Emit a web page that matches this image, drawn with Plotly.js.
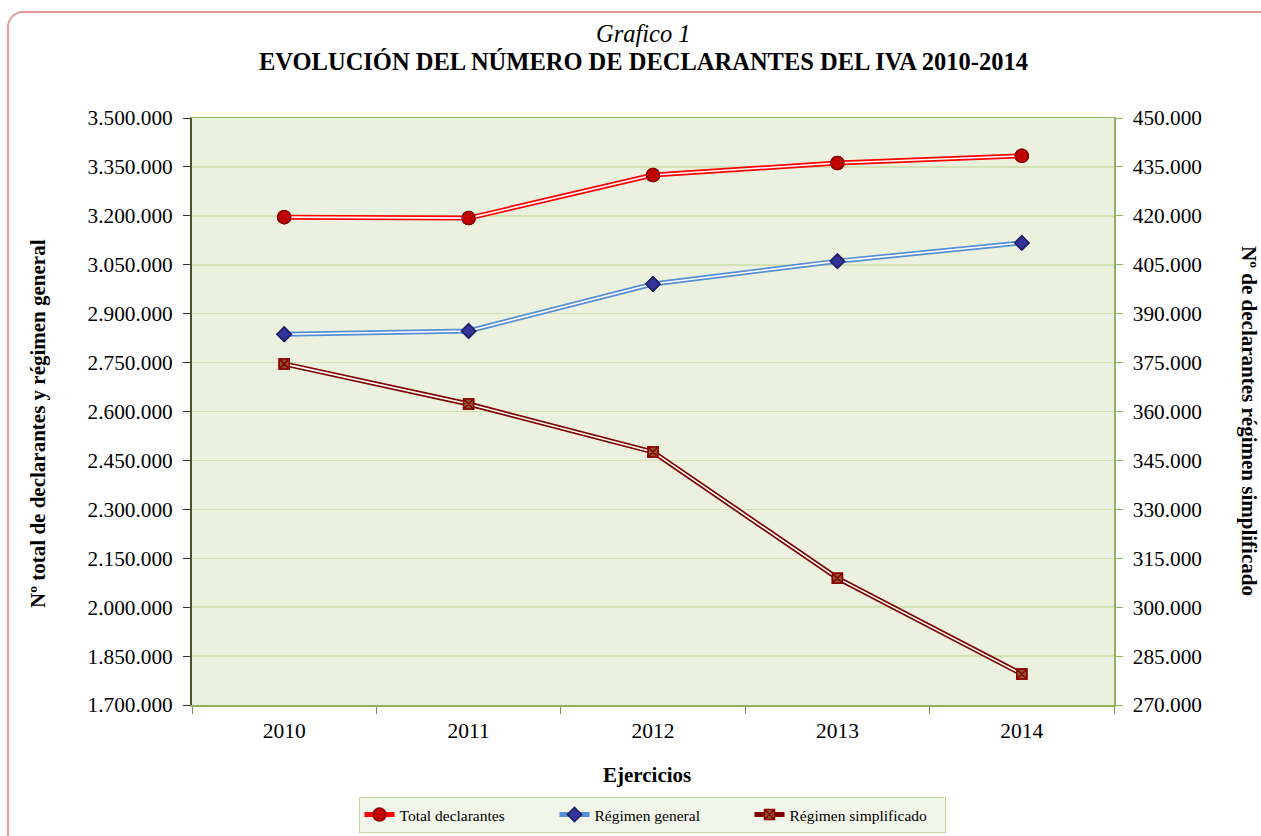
<!DOCTYPE html>
<html>
<head>
<meta charset="utf-8">
<script src="https://cdn.plot.ly/plotly-3.0.1.min.js"></script>
<style>
  html, body { margin:0; padding:0; background:#ffffff; overflow:hidden; }
  #frame { position:absolute; left:7px; top:11px; width:1275px; height:850px;
           border:2px solid #E29A9A; border-radius:16px; box-sizing:border-box; }
  #chart { position:absolute; left:0; top:0; width:1261px; height:836px; }
</style>
</head>
<body>
<div id="frame"></div>
<div id="chart"></div>
<script>
// ---- data ----
const years = ['2010', '2011', '2012', '2013', '2014'];
const totalDeclarantes = [3196000, 3193000, 3325000, 3362000, 3384000];
const regimenGeneral = [2837000, 2847000, 2991000, 3061000, 3117000];
const regimenSimplificado = [374600, 362300, 347600, 308900, 279500];

const FONT = 'Liberation Serif, Times New Roman, serif';

function doubleLine(y, color, name, symbol, mColor, mLine, mSize, axis) {
  return [
    { x: years, y: y, yaxis: axis, name: name, type: 'scatter', mode: 'lines+markers',
      line: { color: color, width: 5 },
      marker: { symbol: symbol, color: mColor, size: mSize, line: { color: mLine, width: 1.5 } },
      hoverinfo: 'skip' },
    { x: years, y: y, yaxis: axis, type: 'scatter', mode: 'lines', showlegend: false,
      line: { color: '#ffffff', width: 1.6 }, hoverinfo: 'skip' },
    { x: years, y: y, yaxis: axis, type: 'scatter', mode: 'markers', showlegend: false,
      marker: { symbol: symbol, color: mColor, size: mSize, line: { color: mLine, width: 1.5 } } }
  ];
}

const traces = [].concat(
  doubleLine(totalDeclarantes, '#FF0000', 'Total declarantes', 'circle', '#C00000', '#8B0000', 13, 'y'),
  doubleLine(regimenGeneral, '#558ED5', 'Régimen general', 'diamond', '#333399', '#1F1F66', 11, 'y'),
  doubleLine(regimenSimplificado, '#7F0000', 'Régimen simplificado', 'square-x', '#8B5A2B', '#8B0000', 10, 'y2')
);

const PW = 922, PH = 587, L = 192, T = 118;
function px(x) { return (x - L) / PW; }
function py(y) { return (T + PH - y) / PH; }

const layout = {
  width: 1261, height: 836,
  margin: { l: 192, r: 147, t: 118, b: 131, pad: 0, autoexpand: false },
  paper_bgcolor: 'rgba(0,0,0,0)',
  plot_bgcolor: '#EBF1DE',
  separators: ',.',
  font: { family: FONT, size: 21, color: '#000000' },
  showlegend: true,
  legend: {
    orientation: 'h', xref: 'container', x: 652 / 1261, xanchor: 'center',
    yref: 'container', y: 1 - 797 / 836, yanchor: 'top',
    bgcolor: '#F2F5EA', bordercolor: '#C3D69B', borderwidth: 1,
    font: { family: FONT, size: 15.5, color: '#000' }, itemwidth: 30, traceorder: 'normal',
    entrywidth: 150, entrywidthmode: 'pixels'
  },
  xaxis: {
    type: 'category', categoryorder: 'array', categoryarray: years,
    range: [-0.5, 4.5], tickson: 'boundaries', ticks: 'outside', ticklen: 7,
    tickcolor: '#77933C', showline: true, linecolor: '#8EB35A', linewidth: 1.5, mirror: true,
    showgrid: false, zeroline: false, tickfont: { family: FONT, size: 21.5 }, ticklabelstandoff: 6,
    fixedrange: true
  },
  yaxis: {
    range: [1700000, 3500000], dtick: 150000, tick0: 1700000, tickformat: ',d',
    ticks: 'outside', ticklen: 7, tickcolor: '#333333', showline: true, linecolor: '#4B5330', linewidth: 2,
    showgrid: true, gridcolor: '#D3E1B5', gridwidth: 1.5, zeroline: false,
    tickfont: { family: FONT, size: 21.3 }, ticklabelstandoff: 6, fixedrange: true
  },
  yaxis2: {
    overlaying: 'y', side: 'right', range: [270000, 450000], dtick: 15000, tick0: 270000, tickformat: ',d',
    ticks: 'outside', ticklen: 7, tickcolor: '#8EB35A', showline: true, linecolor: '#8EB35A', linewidth: 1.5,
    showgrid: false, zeroline: false, tickfont: { family: FONT, size: 21.3 }, ticklabelstandoff: 6, fixedrange: true
  },
  annotations: [
    { text: '<i>Grafico 1</i>', xref: 'paper', yref: 'paper', x: px(643), y: py(33),
      xanchor: 'center', yanchor: 'middle', showarrow: false, font: { family: FONT, size: 24.5 } },
    { text: '<b>EVOLUCIÓN DEL NÚMERO DE DECLARANTES DEL IVA 2010-2014</b>', xref: 'paper', yref: 'paper',
      x: px(643), y: py(62), xanchor: 'center', yanchor: 'middle', showarrow: false, font: { family: FONT, size: 24.5 } },
    { text: '<b>Ejercicios</b>', xref: 'paper', yref: 'paper', x: px(647), y: py(775),
      xanchor: 'center', yanchor: 'middle', showarrow: false, font: { family: FONT, size: 21 } },
    { text: '<b>Nº total de declarantes y régimen general</b>', xref: 'paper', yref: 'paper',
      x: px(38), y: py(424), xanchor: 'center', yanchor: 'middle', textangle: -90, showarrow: false,
      font: { family: FONT, size: 21 } },
    { text: '<b>Nº de declarantes régimen simplificado</b>', xref: 'paper', yref: 'paper',
      x: px(1249), y: py(421), xanchor: 'center', yanchor: 'middle', textangle: 90, showarrow: false,
      font: { family: FONT, size: 21 } }
  ]
};

Plotly.newPlot('chart', traces, layout, { displayModeBar: false, staticPlot: true });
</script>
</body>
</html>
